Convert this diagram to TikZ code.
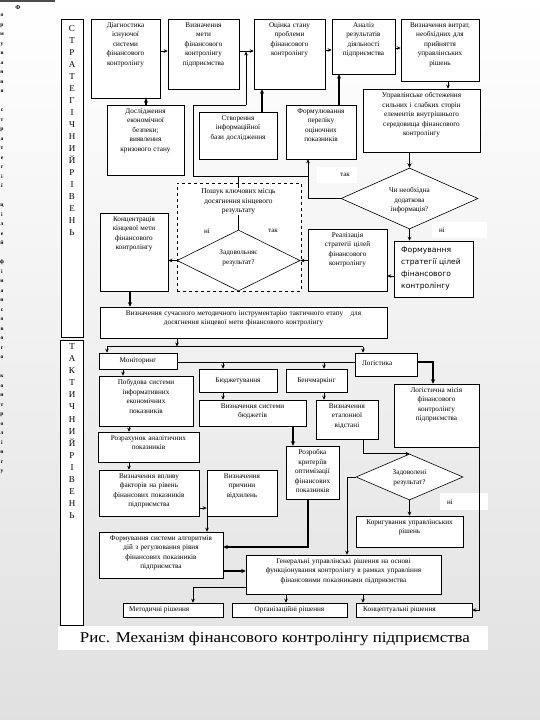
\documentclass[tikz,border=0pt]{standalone}
\usepackage{graphicx}
\usepackage{fontspec}
\setmainfont{Liberation Serif}
\newfontfamily\sansf{DejaVu Sans}
\usetikzlibrary{arrows.meta,shapes.geometric,fit,calc}

\newcommand{\mybox}[6]{%
  \node[box, fit={(#2,#3)(#4,#5)}] (#1) {};
  \pgfmathsetmacro{\mytw}{#4-#2-1}%
  \node[txt, text width=\mytw pt, anchor=north] (#1t) at ([yshift=-3.5pt]#1.north) {#6};
}
\newcommand{\mycbox}[6]{%
  \node[box, fit={(#2,#3)(#4,#5)}] (#1) {};
  \node[txt] (#1t) at (#1.center) {#6};
}

\begin{document}
\begin{tikzpicture}[x=1pt,y=-1pt,
  box/.style={draw, fill=white, line width=0.6pt, inner sep=0pt},
  txt/.style={font=\fontsize{7.2}{9.6}\selectfont, align=center, inner sep=0pt},
  arr/.style={-{Stealth[length=4pt,width=3.6pt]}, line width=0.7pt},
  tarr/.style={-{Stealth[length=4.5pt,width=4.2pt]}, line width=1.5pt},
  ln/.style={line width=0.7pt},
  dia/.style={diamond, draw, fill=white, inner sep=0pt, line width=0.6pt},
  lbl/.style={font=\fontsize{7}{8}\selectfont, inner sep=0pt},
  patch/.style={fill=white, draw=none, inner sep=0pt},
  col/.style={font=\fontsize{9}{12}\selectfont, align=center, inner sep=0pt, anchor=north}
]
\useasboundingbox (0,0) rectangle (540,720);
\shade[top color=white, middle color=gray!7, bottom color=gray!24] (0,0) rectangle (540,720);

% page remnants at the left edge
\fill[gray!60!black] (0,0) rectangle (55,1.5);
\node[font=\fontsize{6}{6}\selectfont\bfseries, inner sep=0pt] (phi) at (18,8) {Ф};
\node[font=\fontsize{5.5}{9.5}\selectfont\bfseries, align=center, anchor=north, inner sep=0pt] (strip) at (2,14)
 {о\\р\\м\\у\\в\\а\\н\\н\\я\\[9.5pt]с\\т\\р\\а\\т\\е\\г\\і\\ї\\[9.5pt]ц\\і\\л\\е\\й\\[9.5pt]ф\\і\\н\\а\\н\\с\\о\\в\\о\\г\\о\\[9.5pt]к\\о\\н\\т\\р\\о\\л\\і\\н\\г\\у};

% level columns
\node[box, fit={(61,19)(83,337)}] (sc) {};
\node[col] (sct) at (72,25.5) {С\\Т\\Р\\А\\Т\\Е\\Г\\І\\Ч\\Н\\И\\Й\\Р\\І\\В\\Е\\Н\\Ь};
\node[box, fit={(60,340)(83,625)}] (tc) {};
\node[col, font=\fontsize{9}{12.07}\selectfont] (tct) at (72,343.5) {Т\\А\\К\\Т\\И\\Ч\\Н\\И\\Й\\Р\\І\\В\\Е\\Н\\Ь};

% ---------------- strategic level
\mybox{b1}{91}{19}{160}{98}{Діагностика\\існуючої\\системи\\фінансового\\контролінгу}
\mybox{b2}{168}{19}{239}{89}{Визначення\\мети\\фінансового\\контролінгу\\підприємства}
\mybox{b3}{254}{19}{325}{89}{Оцінка стану\\проблеми\\фінансового\\контролінгу}
\mybox{b4}{332}{19}{395}{74}{Аналіз\\результатів\\діяльності\\підприємства}
\mybox{b5}{401}{19}{479}{81}{Визначення витрат,\\необхідних для\\прийняття\\управлінських\\рішень}
\mybox{b6}{363}{89}{480}{152}{Управлінське обстеження\\сильних і слабких сторін\\елементів внутрішнього\\середовища фінансового\\контролінгу}
\mybox{b7}{107}{105}{184}{175}{Дослідження\\економічної\\безпеки;\\виявлення\\кризового стану}
\mybox{b8}{199}{112}{277}{159}{Створення\\інформаційної\\бази дослідження}
\mybox{b9}{286}{105}{356}{159}{Формулювання\\переліку\\оціночних\\показників}

\node[draw, dashed, fill=white, inner sep=0pt, line width=0.6pt, fit={(177,183)(301,291)}] (db) {};
\node[dia, minimum width=123pt, minimum height=61pt] (d2) at (238.5,260.5) {};
\node[txt, font=\fontsize{7.2}{10}\selectfont] (d2t) at (238.5,257.5) {Задовольняє\\результат?};

\mybox{b11}{308}{229}{387}{291}{Реалізація\\стратегії цілей\\фінансового\\контролінгу}
\mybox{b12}{100}{213}{168}{291}{Концентрація\\кінцевої мети\\фінансового\\контролінгу}
\mybox{b13}{100}{307}{387}{338}{Визначення сучасного методичного інструментарію тактичного етапу\quad для\\досягнення кінцевої мети фінансового контролінгу}

\node[dia, minimum width=137pt, minimum height=61pt] (d1) at (409.5,198.5) {};
\node[txt] (d1t) at (409.5,200.5) {Чи необхідна\\додаткова\\інформація?};

\node[box, fit={(394,241)(473,297)}] (b10) {};
\node[font=\sansf\fontsize{7.6}{12}\selectfont, align=left, anchor=north west, inner sep=0pt] (b10t) at (401,246.5) {Формування\\стратегії цілей\\фінансового\\контролінгу};

\node[patch, fit={(317,167)(357,183)}] (p1) {};
\node[patch, fit={(432,222)(487,238)}] (p2) {};
\node[lbl] (lt1) at (345,175) {так};
\node[lbl] (ln1) at (442,230) {ні};
\node[lbl] (ln2) at (207,231) {ні};
\node[lbl] (lt2) at (273,231) {так};

% strategic connectors
\draw[arr] (b1.east |- 0,51) -- (b2.west |- 0,51);
\draw[arr] (b2.east |- 0,51) -- (b3.west |- 0,51);
\draw[arr] (b3.east |- 0,50) -- (b4.west |- 0,50);
\draw[arr] (b4.east |- 0,48) -- (b5.west |- 0,48);
\draw[arr] (b5.south -| 448,0) -- (b6.north -| 448,0);
\draw[tarr] (b6.south -| d1.north) -- (d1.north);
\draw[tarr] (b7.north -| 146,0) -- (b1.south -| 146,0);
\draw[tarr] (b8.north -| 262,0) -- (b3.south -| 262,0);
\draw[tarr] (b9.north -| 339,0) -- (b4.south -| 339,0);
\draw[ln] (d1.west) -- (d1.west -| 308,0) coordinate (j1);
\draw[arr] (j1) -- (b9.south -| j1);
\draw[arr] (d1.south) -- (b10.north -| d1.south);
\draw[arr] (b10.west |- 0,276) -- (b11.east |- 0,276);
\draw[arr] (b11.west |- d2.east) -- (d2.east);
\draw[arr] (d2.west) -- (b12.east |- d2.west);
\draw[tarr] (b12.south -| 130,0) -- (b13.north -| 130,0);
% feedback loop
\coordinate (l1) at (308,176);
\coordinate (l2) at (193,176);
\coordinate (l3) at (193,105);
\coordinate (l4) at (246,105);
\coordinate (l5) at (246,51.5);
\draw[ln] (l1) -- (l2) -- (l3) -- (l4);
\draw[arr] (l4) -- (l5);
\draw[ln] (d2.north) -- (d2.north |- l1);
\node[txt, fill=white, inner sep=1pt, font=\fontsize{7.4}{9.6}\selectfont] (dbt) at (238.5,201.5) {Пошук ключових місць\\досягнення кінцевого\\результату};

% ---------------- tactical level
\mycbox{t1}{99}{353}{177}{369}{Моніторинг}
\node[box, fit={(355,353)(417,376)}] (t2) {};
\node[txt, anchor=west] (t2t) at (362,363) {Логістика};
\mycbox{t3}{199}{369}{277}{392}{Бюджетування}
\mycbox{t4}{286}{369}{347}{392}{Бенчмаркінг}
\mybox{t5}{99}{376}{193}{426}{Побудова системи\\інформативних\\економічних\\показників}
\mybox{t6}{199}{400}{306}{426}{Визначення системи\\бюджетів}
\mybox{t7}{316}{400}{378}{439}{Визначення\\еталонної\\відстані}
\mybox{t8}{394}{384}{479}{447}{Логістична місія\\фінансового\\контролінгу\\підприємства}
\mybox{t9}{98}{432}{199}{462}{Розрахунок аналітичних\\показників}
\mybox{t10}{286}{446}{339}{499}{Розробка\\критеріїв\\оптимізації\\фінансових\\показників}
\mybox{t11}{99}{470}{199}{516}{Визначення впливу\\факторів на рівень\\фінансових показників\\підприємства}
\mybox{t12}{207}{470}{277}{516}{Визначення\\причини\\відхилень}
\mybox{t13}{99}{532}{223}{578}{Формування системи алгоритмів\\дій з регулювання рівня\\фінансових показників\\підприємства}
\mybox{t15}{356}{516}{463}{547}{Коригування управлінських\\рішень}
\mybox{t14}{246}{555}{441}{594}{Генеральні управлінські рішення на основі\\функціонування контролінгу в рамках управління\\фінансовими показниками підприємства}
\node[box, fit={(123,603)(223,617)}] (t16) {};
\node[txt, anchor=west] (t16t) at (129,610) {Методичні рішення};
\mycbox{t17}{232}{603}{347}{617}{Організаційні рішення}
\node[box, fit={(356,603)(472,617)}] (t18) {};
\node[txt, anchor=west] (t18t) at (363,610) {Концептуальні рішення};

\node[dia, minimum width=107pt, minimum height=46pt] (d3) at (409.5,477) {};
\node[txt] (d3t) at (409.5,478) {Задоволені\\результат?};
\node[patch, fit={(440,493)(488,510)}] (p3) {};
\node[lbl] (ln3) at (450,502) {ні};

% tactical connectors
\coordinate (hL) at (107,346.5);
\coordinate (hM) at (177,346.5);
\coordinate (hR) at (363,346.5);
\draw[ln] (hL) -- (hR);
\draw[arr] (b13.south -| hM) -- (hM);
\draw[arr] (hL) -- (t1.north -| hL);
\draw[arr] (hR) -- (t2.north -| hR);
\draw[ln] (t1.east |- 0,362) -- (t2.west |- 0,362);
\coordinate (m1) at (223,362);
\coordinate (m2) at (324,362);
\draw[arr] (m1) -- (t3.north -| m1);
\draw[arr] (m2) -- (t4.north -| m2);
\draw[arr] (t1.south -| 123,0) -- (t5.north -| 123,0);
\draw[arr] (t3.south -| 223,0) -- (t6.north -| 223,0);
\draw[arr] (t4.south -| 324,0) -- (t7.north -| 324,0);
\draw[tarr] (t2.east |- 0,362) -| (t8.north -| 433,0);
\draw[arr] (t5.south -| 129,0) -- (t9.north -| 129,0);
\draw[arr] (t9.south -| 129,0) -- (t11.north -| 129,0);
\draw[arr] (t11.east |- 0,508) -- (t12.west |- 0,508);
\draw[tarr] (t6.south -| 293,0) -- (t10.north -| 293,0);
\draw[arr] (t7.south -| 363,0) |- (d3.north);
\draw[arr] (d3.west) -| (t14.north -| 347,0);
\draw[arr] (d3.south) -- (t15.north -| d3.south);
\draw[arr] (t8.south east) |- (t18.east);
\draw[tarr] (t10.south -| 308,0) |- (t13.east |- 0,547);
\draw[arr] (t12.south -| 207,0) -- (t13.north -| 207,0);
\draw[tarr] (t13.east |- 0,571) -- (t14.west |- 0,571);
\draw[arr] (t14.west |- 0,587) -| (t16.north -| 193,0);
\draw[arr] (t14.south -| 286,0) -- (t17.north -| 286,0);
\draw[arr] (t14.south -| 363,0) -- (t18.north -| 363,0);

% caption
\node[patch, fit={(58,626)(488,650)}] (cap) {};
\node[inner sep=0pt] (capt) at (275,638.5) {\resizebox{390pt}{\height}{\fontsize{15}{15}\selectfont Рис. Механізм фінансового контролінгу підприємства}};
\end{tikzpicture}
\end{document}
